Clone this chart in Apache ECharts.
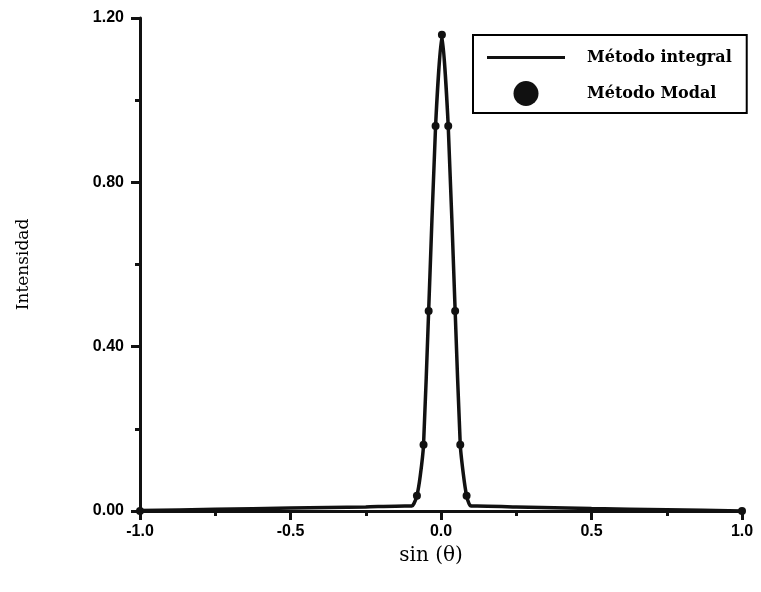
<!DOCTYPE html>
<html>
<head>
<meta charset="utf-8">
<script src="https://cdn.jsdelivr.net/npm/echarts@6/dist/echarts.min.js"></script>
<style>html,body{margin:0;padding:0;background:#fff;}#c{width:761px;height:592px;}</style>
</head>
<body>
<div id="c"></div>
<script>
// Método integral (line) sampled points
var integralX = [-1.0, -0.75, -0.5, -0.25, -0.12, -0.097, -0.09, -0.08, -0.069, -0.058, -0.041, -0.018, 0.003, 0.024, 0.047, 0.064, 0.075, 0.085, 0.093, 0.1, 0.12, 0.25, 0.5, 0.75, 1.0];
var integralY = [0.001, 0.004, 0.007, 0.010, 0.012, 0.012, 0.018, 0.037, 0.085, 0.161, 0.487, 0.937, 1.159, 0.937, 0.487, 0.161, 0.085, 0.037, 0.018, 0.012, 0.012, 0.010, 0.006, 0.003, 0.0];
// Método Modal (points)
var modalX = [-1.0, -0.08, -0.058, -0.041, -0.018, 0.003, 0.024, 0.047, 0.064, 0.085, 1.0];
var modalY = [0.0, 0.037, 0.161, 0.487, 0.937, 1.159, 0.937, 0.487, 0.161, 0.037, 0.0];
// Axis ticks
var xTicks = [-1.0, -0.5, 0.0, 0.5, 1.0];
var yTicks = [0.0, 0.4, 0.8, 1.2];
var seriesNames = ['Método integral', 'Método Modal'];

function zip(a, b) { return a.map(function (v, i) { return [v, b[i]]; }); }

var chart = echarts.init(document.getElementById('c'), null, { renderer: 'canvas' });
var ink = '#111';
// legend line icon: a thin bar spanning the full icon box (tiny corner specks keep the box height)
var lineIcon = 'path://M0,0L0.05,0L0.05,0.05L0,0.05Z M0,11L78,11L78,14L0,14Z M0,24.95L0.05,24.95L0.05,25L0,25Z';
chart.setOption({
  animation: false,
  backgroundColor: '#fff',
  grid: { left: 140, right: 19, top: 18, bottom: 81, containLabel: false },
  legend: {
    orient: 'vertical',
    left: 473, top: 35,
    padding: [10, 15, 7, 14],
    borderColor: '#000', borderWidth: 2,
    itemWidth: 78, itemHeight: 25, itemGap: 11,
    data: [
      { name: seriesNames[0], icon: lineIcon },
      { name: seriesNames[1], icon: 'circle' }
    ],
    textStyle: { fontFamily: 'DejaVu Serif', fontWeight: 'bold', fontSize: 16, color: '#000', padding: [0, 0, 0, 17] }
  },
  xAxis: {
    type: 'value', min: xTicks[0], max: xTicks[xTicks.length - 1], interval: 0.5,
    name: 'sin (θ)', nameLocation: 'middle', nameGap: 35,
    nameTextStyle: { fontFamily: 'DejaVu Serif', fontSize: 20, color: '#000', padding: [0, 20, 0, 0] },
    axisLine: { onZero: false, lineStyle: { color: ink, width: 3 } },
    axisTick: { length: 9, lineStyle: { color: ink, width: 3 } },
    minorTick: { show: true, splitNumber: 2, length: 5, lineStyle: { color: ink, width: 3 } },
    splitLine: { show: false },
    axisLabel: { margin: 13, fontFamily: 'Liberation Sans', fontWeight: 'bold', fontSize: 16, color: '#000',
      formatter: function (v) { return v.toFixed(1); } }
  },
  yAxis: {
    type: 'value', min: yTicks[0], max: yTicks[yTicks.length - 1], interval: 0.4,
    name: 'Intensidad', nameLocation: 'middle', nameGap: 108,
    nameTextStyle: { fontFamily: 'DejaVu Serif', fontSize: 17, color: '#000' },
    axisLine: { show: true, onZero: false, lineStyle: { color: ink, width: 3 } },
    axisTick: { show: true, length: 9, lineStyle: { color: ink, width: 3 } },
    minorTick: { show: true, splitNumber: 2, length: 5, lineStyle: { color: ink, width: 3 } },
    splitLine: { show: false },
    axisLabel: { margin: 16, fontFamily: 'Liberation Sans', fontWeight: 'bold', fontSize: 16, color: '#000',
      formatter: function (v) { return v.toFixed(2); } }
  },
  series: [
    {
      name: seriesNames[0], type: 'line', data: zip(integralX, integralY),
      symbol: 'none', showSymbol: false, smooth: 0.2,
      lineStyle: { color: ink, width: 3.5 }, itemStyle: { color: ink }, z: 2
    },
    {
      name: seriesNames[1], type: 'scatter', data: zip(modalX, modalY),
      symbol: 'circle', symbolSize: 8, itemStyle: { color: ink, opacity: 1 }, z: 3
    }
  ]
});
</script>
</body>
</html>
